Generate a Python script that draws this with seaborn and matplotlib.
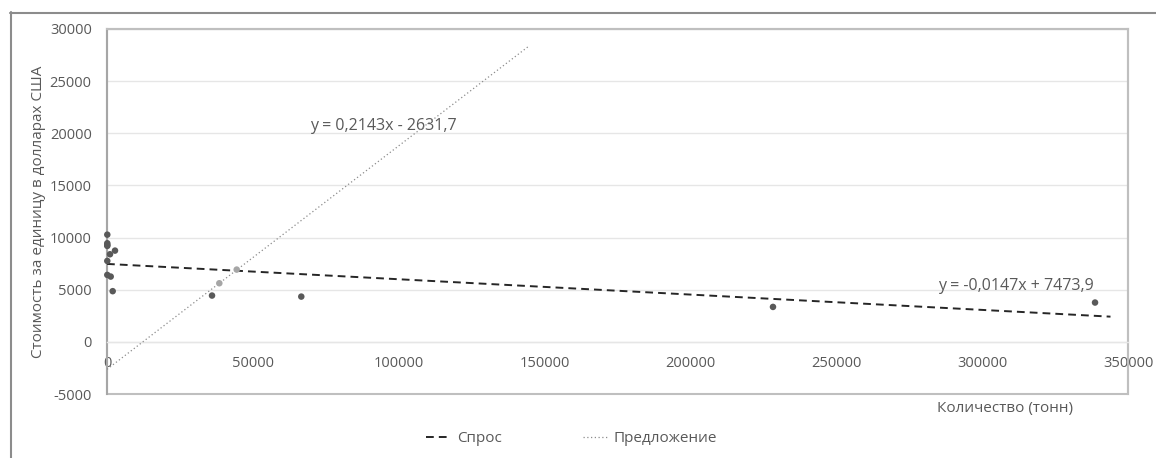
import matplotlib
matplotlib.use('Agg')
import matplotlib.pyplot as plt
from matplotlib.lines import Line2D
import seaborn as sns
import pandas as pd

sns.set_theme(style='white')
plt.rcParams['font.family'] = ['Open Sans', 'DejaVu Sans']

# данные
demand_x = [100, 100, 100, 100, 2740, 1030, 100, 100, 1270, 1950, 36000, 66600, 228300, 338700]
demand_y = [10280, 9455, 9290, 9200, 8750, 8400, 7760, 6420, 6260, 4860, 4440, 4340, 3350, 3770]
supply_x = [38500, 44460]
supply_y = [5620, 6930]

# линии тренда
demand_slope, demand_icpt = -0.0147, 7473.9
supply_slope, supply_icpt = 0.2143, -2631.7
demand_fit_x = [0, 344000]
supply_fit_x = [0, 144300]

xticks = list(range(0, 350001, 50000))
yticks = list(range(-5000, 30001, 5000))

gray = '#595959'

fig = plt.figure(figsize=(11.56, 4.58), dpi=100)
ax = fig.add_axes([107 / 1156, 1 - 394 / 458, 1021 / 1156, 365 / 458])

# внешняя рамка
fig.add_artist(Line2D([10.5 / 1156, 10.5 / 1156], [0, 1 - 12 / 458], color='#8C8C8C', lw=1.5))
fig.add_artist(Line2D([10 / 1156, 1], [1 - 12.5 / 458, 1 - 12.5 / 458], color='#8C8C8C', lw=1.5))

df_d = pd.DataFrame({'x': demand_x, 'y': demand_y})
df_s = pd.DataFrame({'x': supply_x, 'y': supply_y})
sns.scatterplot(data=df_s, x='x', y='y', ax=ax, color='#A6A6A6', s=22, edgecolor='none',
                zorder=6, clip_on=False)
sns.scatterplot(data=df_d, x='x', y='y', ax=ax, color='#595959', s=22, edgecolor='none',
                zorder=7, clip_on=False)

fit_d = pd.DataFrame({'x': demand_fit_x})
fit_d['y'] = demand_slope * fit_d['x'] + demand_icpt
fit_s = pd.DataFrame({'x': supply_fit_x})
fit_s['y'] = supply_slope * fit_s['x'] + supply_icpt

ax.plot(fit_d['x'], fit_d['y'], color='#262626', lw=1.4, linestyle=(0, (4, 2.6)), label='Спрос', zorder=5)
ax.plot(fit_s['x'], fit_s['y'], color='#8C8C8C', lw=0.9, linestyle=(0, (1, 2)), label='Предложение', zorder=5)

ax.text(69600, 20700, 'y = 0,2143x - 2631,7', fontsize=11.5, color=gray, va='center')
ax.text(284900, 5360, 'y = -0,0147x + 7473,9', fontsize=11.5, color=gray, va='center')

ax.set_xlim(0, 350000)
ax.set_ylim(-5000, 30000)
ax.set_xticks(xticks)
ax.set_yticks(yticks)
ax.set_xticklabels([str(v) for v in xticks])
ax.set_yticklabels([str(v) for v in yticks])
ax.tick_params(axis='both', length=0, labelsize=10.5, labelcolor=gray)
ax.tick_params(axis='y', pad=11)
ax.tick_params(axis='x', pad=10)

ax.yaxis.grid(True, color='#E6E6E6', lw=1)
ax.xaxis.grid(False)

# рамка области построения; горизонтальная ось пересекает 0
for s in ['top', 'right', 'left']:
    ax.spines[s].set_color('#BFBFBF')
    ax.spines[s].set_linewidth(1.5)
ax.spines['left'].set_color('#A6A6A6')
ax.spines['bottom'].set_position(('data', 0))
ax.spines['bottom'].set_color('#E6E6E6')
ax.spines['bottom'].set_linewidth(1)
ax.add_patch(plt.Rectangle((0, 0), 1, 1, transform=ax.transAxes, fill=False,
                           edgecolor='#BFBFBF', lw=1.5, clip_on=False, zorder=1))

ax.set_xlabel('Количество (тонн)', fontsize=11, color=gray)
ax.xaxis.set_label_coords(0.88, -0.019)
ax.set_ylabel('Стоимость за единицу в долларах США', fontsize=11, color=gray)
ax.yaxis.set_label_coords(-0.060, 0.5)

ax.legend(loc='center', bbox_to_anchor=(0.455, -0.123), ncol=2, frameon=False,
          fontsize=11, labelcolor=gray, handlelength=1.6, columnspacing=5.3, handletextpad=0.4)

fig.savefig('out.png', dpi=100)
